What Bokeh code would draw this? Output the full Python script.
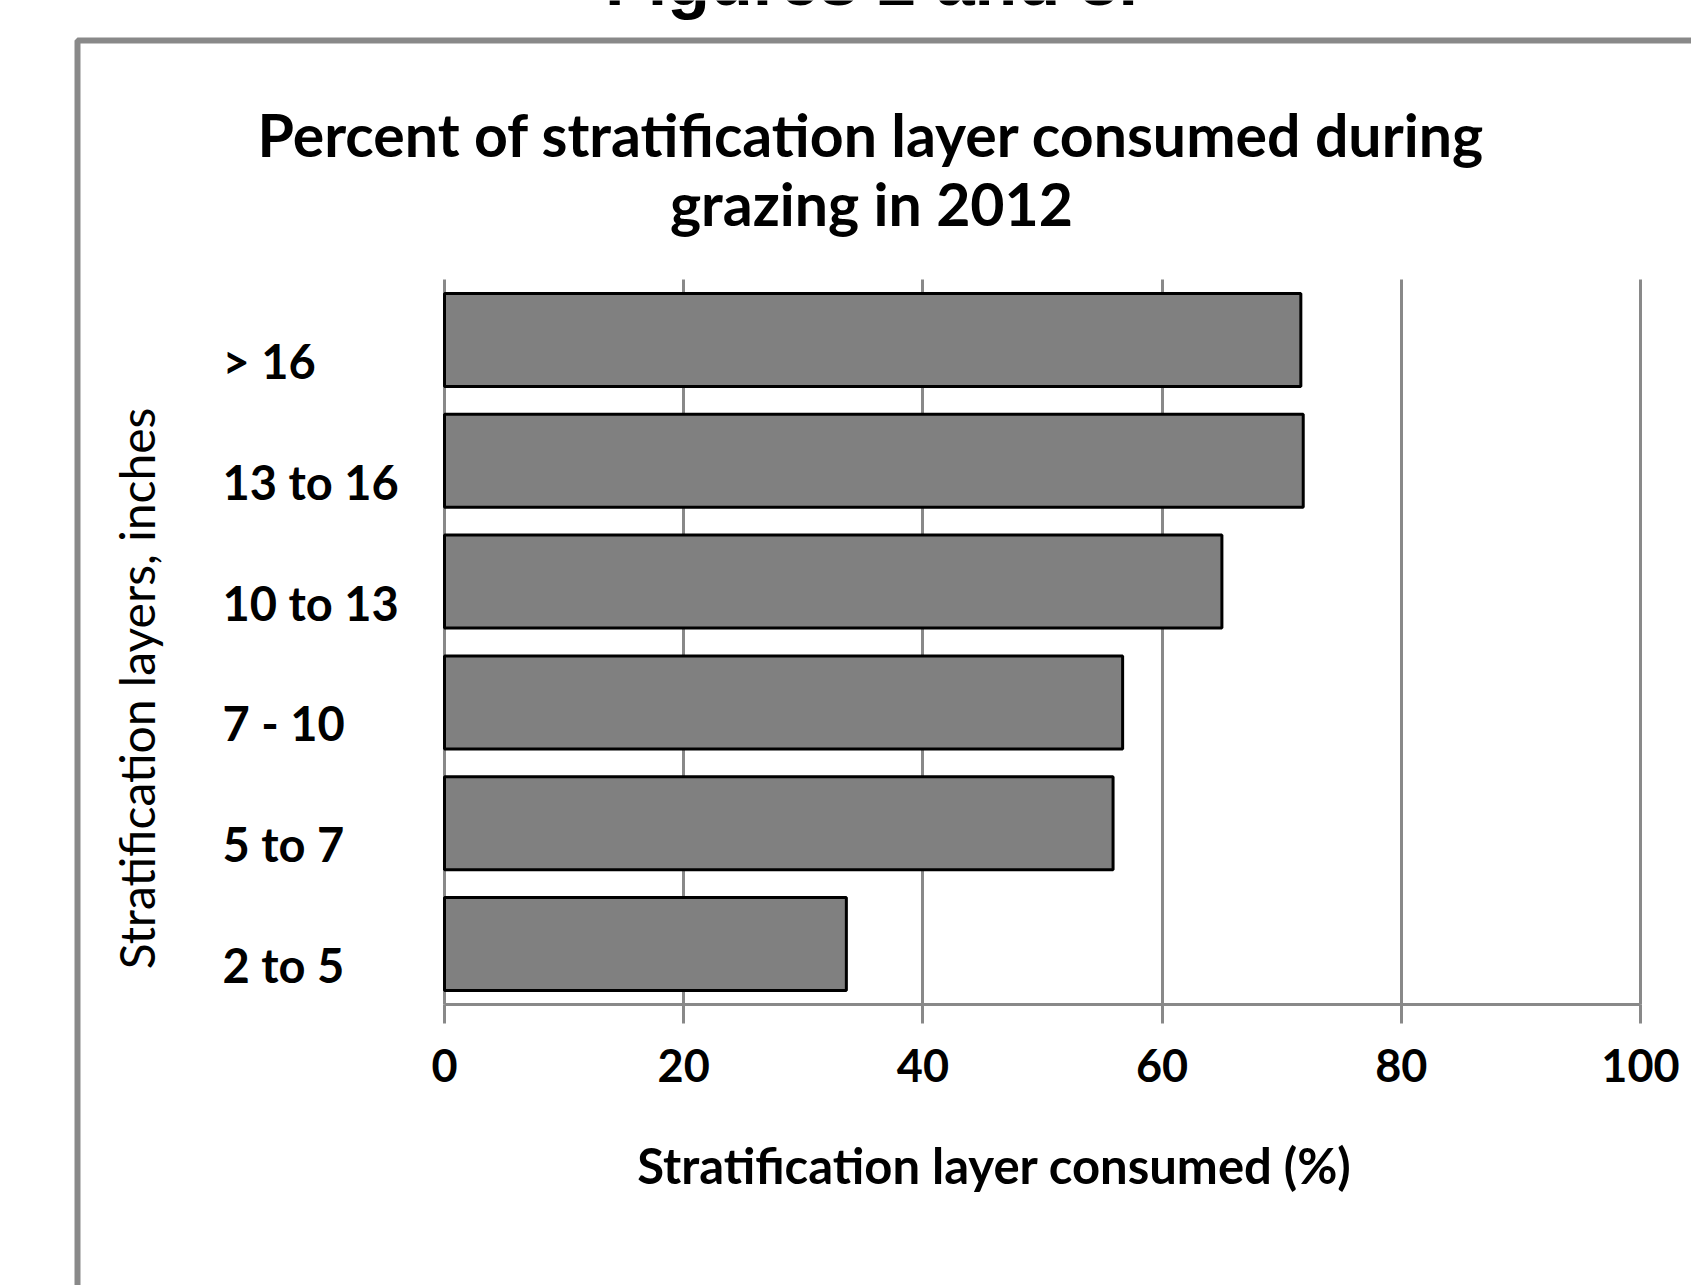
import math
from bokeh.plotting import figure
from bokeh.models import (ColumnDataSource, Range1d, FixedTicker, LinearAxis,
                          Label, BoxAnnotation, Grid)
from bokeh.core.properties import value
from bokeh.embed import file_html
from bokeh.resources import INLINE

# ---------------- data ----------------
categories = ["2 to 5", "5 to 7", "7 - 10", "10 to 13", "13 to 16", "> 16"]
consumed_pct = [33.6, 55.9, 56.7, 65.0, 71.8, 71.6]
x_ticks = [0, 20, 40, 60, 80, 100]

heading = "Figures 2 and 3."
title_lines = ["Percent of stratification layer consumed during", "grazing in 2012"]
x_title = "Stratification layer consumed (%)"
y_title = "Stratification layers, inches"

# ---------------- layout ----------------
W, H = 1691, 1285
FL, FR, FT, FB = 444, 1640, 279, 1004   # plotting area of the chart, pixels
XMIN, XMAX = 0, 100
NCAT = len(categories)
ROW = (FB - FT) / NCAT


def dx(px):
    return XMIN + (px - FL) / (FR - FL) * (XMAX - XMIN)


def dy(py):
    return (FB - py) / ROW


GRID = "#898989"
FONT = "Lato"

p = figure(width=W, height=H,
           x_range=Range1d(dx(0), dx(W)), y_range=Range1d(dy(H), dy(0)),
           x_axis_location=None, y_axis_location=None,
           output_backend="svg", toolbar_location=None,
           min_border_left=0, min_border_right=0, min_border_top=0, min_border_bottom=0)
p.outline_line_color = None
p.background_fill_color = "white"
p.border_fill_color = "white"
p.xgrid.visible = False
p.ygrid.visible = False

# category positions on the y scale
ypos = [i + 0.5 for i in range(NCAT)]

# vertical grid lines (limited to the plotting area)
if "cross_bounds" in Grid.properties():
    g = Grid(dimension=0, ticker=FixedTicker(ticks=x_ticks), bounds=(XMIN, XMAX),
             cross_bounds=(0, NCAT), grid_line_color=GRID, grid_line_width=3)
    p.add_layout(g)
else:
    p.segment(x0=x_ticks, y0=[0] * len(x_ticks), x1=x_ticks, y1=[NCAT] * len(x_ticks),
              line_color=GRID, line_width=3)

# x axis fixed at the bottom of the plotting area
ax = LinearAxis(fixed_location=0, ticker=FixedTicker(ticks=x_ticks), bounds=(XMIN, XMAX))
ax.axis_line_color = GRID
ax.axis_line_width = 3
ax.major_tick_line_color = GRID
ax.major_tick_line_width = 3
ax.major_tick_in = 0
ax.major_tick_out = 19
ax.minor_tick_line_color = None
ax.major_label_text_font = FONT
ax.major_label_text_font_style = "bold"
ax.major_label_text_font_size = "45px"
ax.major_label_text_color = "black"
ax.major_label_standoff = 25
p.add_layout(ax, "below")

# bars
src = ColumnDataSource(dict(cat=categories, y=ypos, value=consumed_pct,
                            ly=[v - 21 / ROW for v in ypos],
                            lx=[dx(222)] * NCAT))
p.hbar(y="y", left=0, right="value", height=0.77, source=src,
       fill_color="#808080", line_color="black", line_width=3)

# category labels (left aligned, as in the original)
p.text(x="lx", y="ly", text="cat", source=src, text_align="left",
       text_baseline="middle", text_font=value(FONT),
       text_font_style="bold", text_font_size="47px", text_color="black")

# outer chart frame
p.add_layout(BoxAnnotation(left=dx(77), right=dx(1760), top=dy(40), bottom=dy(1360),
                           fill_alpha=0, line_color=GRID, line_alpha=1.0,
                           line_width=6, level="underlay"))

# heading (cut off at the top, as in the original)
p.add_layout(Label(x=dx(871), y=dy(-20), text=heading, text_align="center",
                   text_baseline="middle", text_font="Liberation Sans",
                   text_font_style="bold", text_font_size="70px", text_color="black"))

# chart title
for line, mid in zip(title_lines, [134, 203]):
    p.add_layout(Label(x=dx(871), y=dy(mid), text=line, text_align="center",
                       text_baseline="middle", text_font=FONT,
                       text_font_style="bold", text_font_size="59px",
                       text_color="black"))

# x axis title
p.add_layout(Label(x=dx(994), y=dy(1164.5), text=x_title, text_align="center",
                   text_baseline="middle", text_font=FONT, text_font_style="bold",
                   text_font_size="49px", text_color="black"))

# y axis title
p.add_layout(Label(x=dx(136), y=dy(688), text=y_title, angle=math.pi / 2,
                   text_align="center", text_baseline="middle",
                   text_font=FONT, text_font_style="normal",
                   text_font_size="48px", text_color="black"))

open("out.html", "w").write(file_html(p, INLINE))
